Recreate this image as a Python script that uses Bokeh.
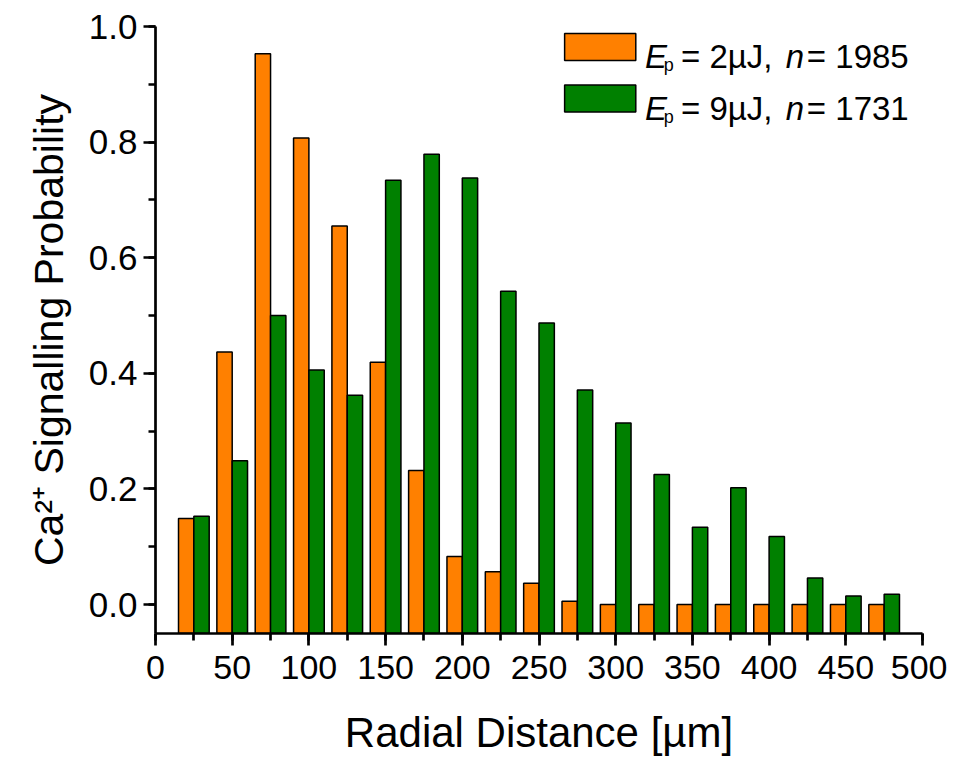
from bokeh.plotting import figure
from bokeh.models import (ColumnDataSource, Range1d, SingleIntervalTicker,
                          NumeralTickFormatter, Label)
from bokeh.transform import dodge
from bokeh.embed import file_html
from bokeh.resources import INLINE

# ---- data ----
radial_distance = [25, 50, 75, 100, 125, 150, 175, 200, 225, 250,
                   275, 300, 325, 350, 375, 400, 425, 450, 475]
prob_2uJ = [0.149, 0.437, 0.953, 0.807, 0.655, 0.419, 0.232, 0.083, 0.057, 0.037,
            0.006, 0.0, 0.0, 0.0, 0.0, 0.0, 0.0, 0.0, 0.0]
prob_9uJ = [0.153, 0.249, 0.500, 0.406, 0.362, 0.734, 0.779, 0.738, 0.542, 0.487,
            0.371, 0.314, 0.225, 0.134, 0.202, 0.118, 0.046, 0.015, 0.018]
series_energy = ["2µJ", "9µJ"]
series_n = ["1985", "1731"]

ORANGE = "#FF8000"
GREEN = "#008000"
FONT = "Liberation Sans"

src = ColumnDataSource(dict(x=radial_distance, a=prob_2uJ, b=prob_9uJ))

p = figure(frame_width=767, frame_height=607,
           x_range=Range1d(0, 500), y_range=Range1d(-0.05, 1.0),
           output_backend="svg", toolbar_location=None,
           min_border_left=155, min_border_top=26,
           min_border_right=25, min_border_bottom=120,
           background_fill_color="white", border_fill_color="white")
p.outline_line_color = None
p.xgrid.visible = False
p.ygrid.visible = False

base = p.y_range.start
p.vbar(x=dodge("x", -5, range=p.x_range), width=10, top="a", bottom=base,
       source=src, fill_color=ORANGE, line_color="black", line_width=1.5)
p.vbar(x=dodge("x", 5, range=p.x_range), width=10, top="b", bottom=base,
       source=src, fill_color=GREEN, line_color="black", line_width=1.5)

p.xaxis.ticker = SingleIntervalTicker(interval=50, num_minor_ticks=2)
p.yaxis.ticker = SingleIntervalTicker(interval=0.2, num_minor_ticks=2)
p.yaxis.formatter = NumeralTickFormatter(format="0.0")

for ax in (p.xaxis[0], p.yaxis[0]):
    ax.axis_line_width = 2.7
    ax.major_tick_line_width = 2.7
    ax.minor_tick_line_width = 2.7
    ax.major_tick_out = 12
    ax.major_tick_in = 0
    ax.minor_tick_out = 7
    ax.minor_tick_in = 0
    ax.major_label_text_font = FONT
    ax.axis_label_text_font = FONT
    ax.axis_label_text_font_style = "normal"
    ax.major_label_text_color = "black"
    ax.axis_label_text_color = "black"

p.xaxis.major_label_text_font_size = "34px"
p.xaxis.major_label_standoff = 10
p.xaxis.axis_label = "Radial Distance [µm]"
p.xaxis.axis_label_text_font_size = "42px"
p.xaxis.axis_label_standoff = 27

p.yaxis.major_label_text_font_size = "35px"
p.yaxis.major_label_standoff = 6
p.yaxis.axis_label = "Ca²⁺ Signalling Probability"
p.yaxis.axis_label_text_font_size = "41px"
p.yaxis.axis_label_standoff = 14

# ---- legend (swatches + rich-text labels) ----
sw_left, sw_right = 266.7, 313.1
row_top = [0.988, 0.899]
row_h = 0.047
row_base = [0.948, 0.8576]
p.quad(left=[sw_left, sw_left], right=[sw_right, sw_right],
       top=row_top, bottom=[t - row_h for t in row_top],
       fill_color=[ORANGE, GREEN], line_color="black", line_width=1.5)

for i in range(2):
    yb = row_base[i]
    p.add_layout(Label(x=319.1, y=yb, text="E", text_font=FONT,
                       text_font_style="italic", text_font_size="33px",
                       text_baseline="alphabetic", text_color="black"))
    p.add_layout(Label(x=331.4, y=yb - 0.0145, text="p", text_font=FONT,
                       text_font_size="18px", text_baseline="alphabetic",
                       text_color="black"))
    p.add_layout(Label(x=342.6, y=yb, text="= " + series_energy[i] + ",",
                       text_font=FONT, text_font_size="33px",
                       text_baseline="alphabetic", text_color="black"))
    p.add_layout(Label(x=410.8, y=yb, text="n", text_font=FONT,
                       text_font_style="italic", text_font_size="33px",
                       text_baseline="alphabetic", text_color="black"))
    p.add_layout(Label(x=424.6, y=yb, text="= " + series_n[i],
                       text_font=FONT, text_font_size="33px",
                       text_baseline="alphabetic", text_color="black"))

open("out.html", "w").write(file_html(p, INLINE))
